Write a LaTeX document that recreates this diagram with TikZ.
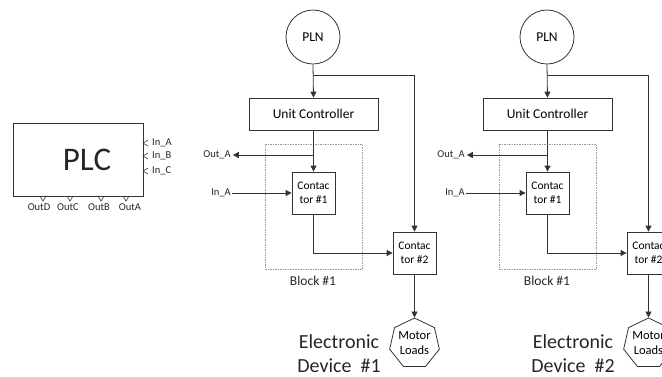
\documentclass[tikz,border=0pt]{standalone}
\usepackage{fontspec}
\setmainfont{Carlito}
\usetikzlibrary{arrows.meta,shapes.geometric}
\tikzset{
  ln/.style={draw=black!80, line width=0.8pt},
  arr/.style={ln, -{Triangle[length=6pt,width=6pt]}},
  boxn/.style={draw=black!80, line width=0.8pt, inner sep=0pt},
  lbl/.style={inner sep=0pt, text=black!85},
}
\begin{document}
\begin{tikzpicture}[x=1pt,y=-1pt]
\useasboundingbox (0,0) rectangle (662,376);
\clip (0,0) rectangle (662,376);
% PLC
\node[boxn, minimum width=130pt, minimum height=73pt] (plc) at (78,159.5) {};
\node[lbl, font=\fontsize{33}{36}\selectfont] (plct) at (87,160) {PLC};
\foreach \y/\t in {143/In\_A,156/In\_B,171/In\_C}{
  \draw[ln, line width=0.6pt] (148,\y-3) -- (143,\y) -- (148,\y+3);
  \node[lbl, anchor=west, font=\fontsize{10.5}{12}\selectfont] at (152,\y) {\t};
}
\foreach \x/\lx/\t in {43/39/OutD,70/68/OutC,101/99/OutB,126/130/OutA}{
  \draw[ln, line width=0.6pt] (\x-3,196) -- (\x,201) -- (\x+3,196);
  \node[lbl, font=\fontsize{10.5}{12}\selectfont] at (\lx,207.5) {\t};
}
% devices
\foreach \d/\n in {0/1,234/2}{
\begin{scope}[xshift=\d]
  \node[circle, boxn, minimum size=54pt, font=\fontsize{13.5}{15}\selectfont] (pln\n) at (313,37) {PLN};
  \node[boxn, minimum width=129pt, minimum height=32pt, font=\fontsize{13.5}{15}\selectfont] (uc\n) at (313.5,114) {Unit Controller};
  \draw[draw=black!40, line width=0.5pt, dash pattern=on 1.5pt off 1pt] (265,144) rectangle (362,269);
  \node[lbl, font=\fontsize{13.5}{15}\selectfont] (blk\n) at (313,281) {Block \#1};
  \node[boxn, minimum width=43pt, minimum height=42pt, align=center, font=\fontsize{11.5}{14}\selectfont] (ca\n) at (313.5,193) {Contac\\tor \#1};
  \node[boxn, minimum width=43pt, minimum height=42pt, align=center, font=\fontsize{11.5}{14}\selectfont] (cb\n) at (414.5,253) {Contac\\tor \#2};
  \node[regular polygon, regular polygon sides=7, boxn, minimum size=51pt, align=center, font=\fontsize{12.5}{15}\selectfont] (ml\n) at (414.5,343.5) {Motor\\Loads};
  \node[lbl, align=center, font=\fontsize{20}{24}\selectfont] (ed\n) at (339,354) {Electronic\\Device~~\#\n};
  \node[lbl, font=\fontsize{10.5}{12}\selectfont] (oa\n) at (217,155) {Out\_A};
  \node[lbl, font=\fontsize{10.5}{12}\selectfont] (ia\n) at (221,193) {In\_A};
  \coordinate (j\n) at (313,75);
  \coordinate (k\n) at (313,155);
  \draw[arr] (pln\n.south) -- (uc\n.north);
  \draw[arr] (j\n) -| (cb\n.north);
  \draw[arr] (uc\n.south) -- (ca\n.north);
  \draw[arr] (k\n) -- ([xshift=2pt]oa\n.east);
  \draw[arr] ([xshift=1pt]ia\n.east) -- (ca\n.west);
  \draw[arr] (ca\n.south) |- (cb\n.west);
  \draw[arr] (cb\n.south) -- (ml\n.north);
\end{scope}
}
\end{tikzpicture}
\end{document}
